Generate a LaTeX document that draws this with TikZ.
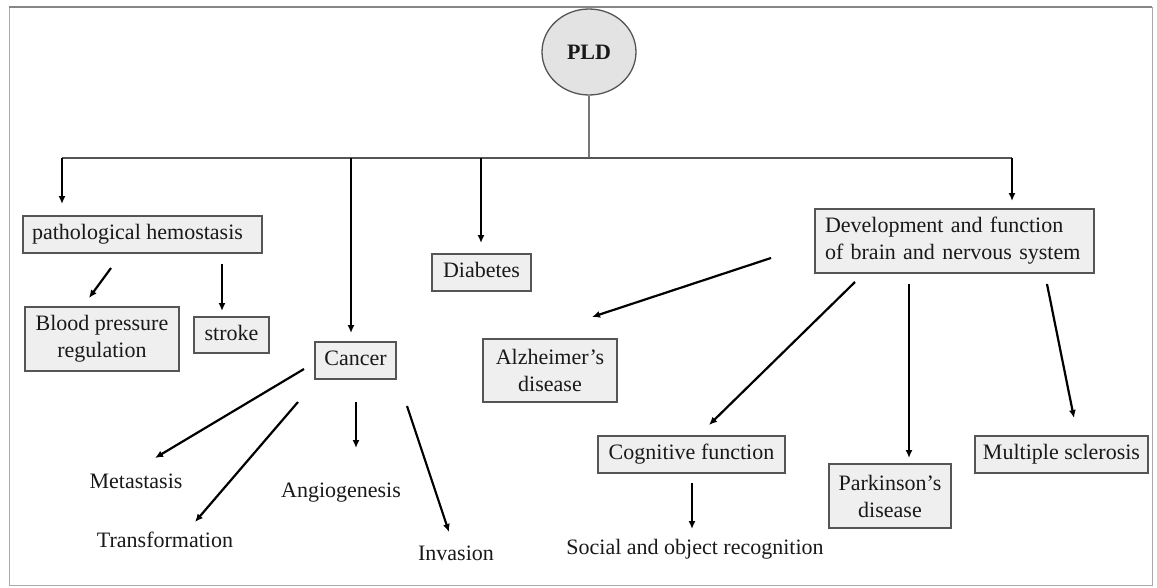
\documentclass[tikz,border=0pt]{standalone}
\usepackage{fontspec}
\setmainfont{Liberation Serif}
\usetikzlibrary{arrows.meta,shapes.geometric}
\definecolor{boxfill}{HTML}{EFEFEF}
\definecolor{boxline}{HTML}{555555}
\definecolor{frameline}{HTML}{A8A8A8}
\begin{document}
\begin{tikzpicture}[x=1pt,y=-1pt,
  every node/.style={font=\fontsize{22}{27}\selectfont, inner sep=0pt, text=black!90},
  gbox/.style={draw=boxline, line width=1.3pt, fill=boxfill, align=center},
  one/.style={text height=14pt, text depth=4pt},
  plain/.style={text height=14pt, text depth=4pt},
  arr/.style={line width=2.2pt, -{Latex[length=8pt,width=7pt]}},
  bus/.style={draw=boxline, line width=1.7pt},
  stem/.style={draw=boxline!80, line width=1.4pt}
]
\useasboundingbox (0,0) rectangle (1157,587);
\fill[white] (0,0) rectangle (1157,587);
\draw[frameline, line width=1pt] (9,7) rectangle (1152,585);
\draw[frameline!80!black, line width=2pt] (9,7) -- (1152,7);

% root
\node[ellipse, draw=boxline, line width=1.3pt, fill=boxfill!95!black, minimum width=94pt, minimum height=86pt, font=\fontsize{22}{27}\selectfont\bfseries] (pld) at (589,52) {PLD};

% boxes
\node[gbox, one, minimum width=239pt, minimum height=37pt] (hemo) at (142.5,234.5) {\hspace*{-10pt}pathological hemostasis};
\node[gbox, minimum width=154pt, minimum height=64pt] (bp) at (102,339) {Blood pressure\\regulation};
\node[gbox, one, minimum width=75pt, minimum height=36pt] (stroke) at (231.5,335) {stroke};
\node[gbox, one, minimum width=81pt, minimum height=37pt] (cancer) at (355.5,360.5) {Cancer};
\node[gbox, one, minimum width=99pt, minimum height=37pt] (diab) at (481.5,272.5) {Diabetes};
\node[gbox, minimum width=134pt, minimum height=63pt] (alz) at (550,370.5) {Alzheimer’s\\disease};
\node[gbox, align=left, text width=259pt, minimum width=279pt, minimum height=64pt] (dev) at (954.5,241) {Development and function\\of brain and nervous system};
\node[gbox, one, minimum width=187pt, minimum height=37pt] (cog) at (691.5,454.5) {Cognitive function};
\node[gbox, minimum width=122pt, minimum height=64pt] (park) at (890,496) {Parkinson’s\\disease};
\node[gbox, one, minimum width=173pt, minimum height=37pt] (ms) at (1061.5,454.5) {Multiple sclerosis};

% plain labels
\node[plain] (meta) at (136,483) {Metastasis};
\node[plain] (trans) at (165,542) {Transformation};
\node[plain] (angio) at (341,492) {Angiogenesis};
\node[plain] (inv) at (456,555) {Invasion};
\node[plain] (social) at (695,549) {Social and object recognition};

% bus
\coordinate (busc) at (589,158);
\coordinate (busl) at (62,158);
\coordinate (busr) at (1012,158);
\coordinate (busca) at (351,158);
\coordinate (busdi) at (481,158);
\draw[stem] (pld.south) -- (busc);
\draw[bus] (busl) -- (busr);

% arrow end points
\coordinate (e1) at (62,204);
\coordinate (e2) at (351,333);
\coordinate (e3) at (481,243);
\coordinate (e4) at (1012,201);
\draw[arr] (busl) -- (e1);
\draw[arr] (busca) -- (e2);
\draw[arr] (busdi) -- (e3);
\draw[arr] (busr) -- (e4);

% hemostasis children
\coordinate (h1s) at (111,268); \coordinate (h1e) at (89,298);
\coordinate (h2s) at (222,264); \coordinate (h2e) at (222,311);
\draw[arr] (h1s) -- (h1e);
\draw[arr] (h2s) -- (h2e);

% cancer children
\coordinate (c1s) at (304,369); \coordinate (c1e) at (155,458);
\coordinate (c2s) at (298,402); \coordinate (c2e) at (195,522);
\coordinate (c3s) at (356,402); \coordinate (c3e) at (356,448);
\coordinate (c4s) at (407,406); \coordinate (c4e) at (449,532);
\draw[arr] (c1s) -- (c1e);
\draw[arr] (c2s) -- (c2e);
\draw[arr] (c3s) -- (c3e);
\draw[arr] (c4s) -- (c4e);

% brain children
\coordinate (d1s) at (771,258); \coordinate (d1e) at (592,317);
\coordinate (d2s) at (855,282); \coordinate (d2e) at (709,425);
\coordinate (d3s) at (909,284); \coordinate (d3e) at (909,458);
\coordinate (d4s) at (1047,284); \coordinate (d4e) at (1074,418);
\draw[arr] (d1s) -- (d1e);
\draw[arr] (d2s) -- (d2e);
\draw[arr] (d3s) -- (d3e);
\draw[arr] (d4s) -- (d4e);

% cognitive child
\coordinate (g1s) at (692,483); \coordinate (g1e) at (692,529);
\draw[arr] (g1s) -- (g1e);
\end{tikzpicture}
\end{document}
